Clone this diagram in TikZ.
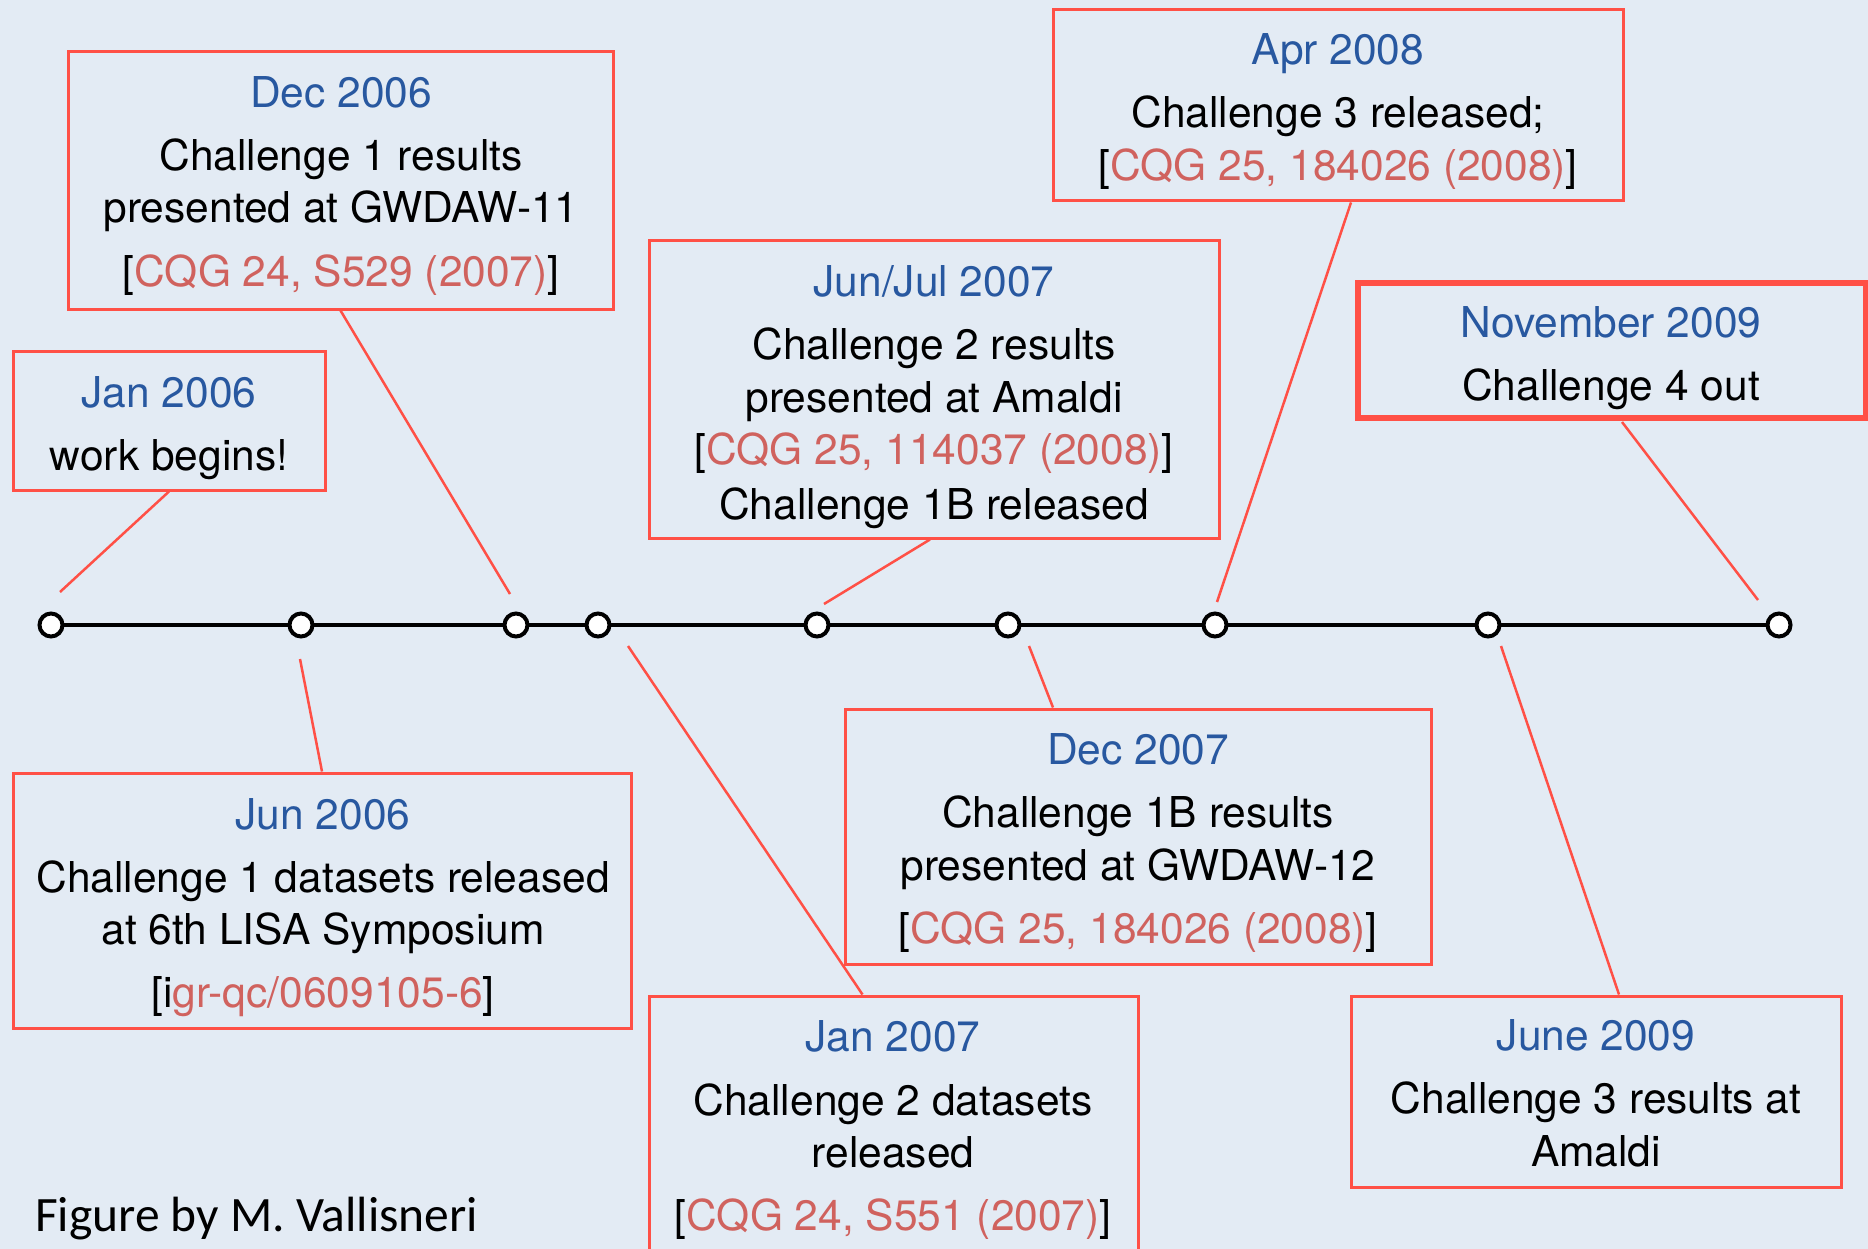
\documentclass[tikz,border=0pt]{standalone}
\usepackage{fontspec}
\setmainfont{TeX Gyre Heros}
\newfontfamily\figfont{Carlito}
\usetikzlibrary{calc}
\definecolor{bgc}{RGB}{227,235,244}
\definecolor{boxred}{RGB}{255,80,70}
\definecolor{datebl}{RGB}{40,88,160}
\definecolor{refred}{RGB}{208,98,94}
\tikzset{
  evbox/.style={draw=boxred, line width=3pt, rectangle, inner sep=0pt},
  datetxt/.style={text=datebl, font=\fontsize{42.5}{50}\selectfont, inner sep=0pt, anchor=base, yshift=-15pt},
  bodytxt/.style={text=black, font=\fontsize{42.5}{50}\selectfont, inner sep=0pt, anchor=base, yshift=-15pt},
  conn/.style={draw=boxred, line width=2.5pt},
  tick/.style={circle, draw=black, fill=white, line width=4pt, minimum size=23pt, inner sep=0pt},
  tline/.style={draw=black, line width=3.5pt}
}
\newcommand{\rf}[1]{\textcolor{refred}{#1}}
\newcommand{\bx}[5]{\node[evbox, minimum width={#4-#2}, minimum height={#5-#3}] (#1) at ({(#2+#4)/2},{(#3+#5)/2}) {};}
\begin{document}
\begin{tikzpicture}[x=1pt,y=-1pt]
\fill[bgc] (0,0) rectangle (1868,1249);
\useasboundingbox (0,0) rectangle (1868,1249);

% timeline
\draw[tline] (51,625) -- (1779,625);
\foreach \n/\x in {t1/51,t2/301,t3/516,t4/598,t5/817,t6/1008,t7/1215,t8/1488,t9/1779}
  \node[tick] (\n) at (\x,625) {};

% boxes
\bx{b1}{68}{52}{613}{309}
\bx{b2}{13}{351}{325}{490}
\bx{b3}{649}{241}{1219}{538}
\bx{b4}{1053}{10}{1623}{201}
\node[evbox, line width=6pt, minimum width=508pt, minimum height=134pt] (b5) at (1612,350.5) {};
\bx{b6}{13}{773}{631}{1028}
\bx{b7}{649}{996}{1138}{1275}
\bx{b8}{845}{709}{1431}{964}
\bx{b9}{1351}{996}{1841}{1187}

% texts
\node[datetxt] (d1) at (341,93) {Dec 2006};
\node[bodytxt] (l1a) at (341,156) {Challenge 1 results};
\node[bodytxt] (l1b) at (341,208) {presented at GWDAW-11};
\node[bodytxt] (l1c) at (341,272) {[\rf{CQG 24, S529 (2007)}]};

\node[datetxt] (d2) at (169,392) {Jan 2006};
\node[bodytxt] (l2a) at (169,455) {work begins!};

\node[datetxt] (d3) at (934,281) {Jun/Jul 2007};
\node[bodytxt] (l3a) at (934,344) {Challenge 2 results};
\node[bodytxt] (l3b) at (934,397) {presented at Amaldi};
\node[bodytxt] (l3c) at (934,449) {[\rf{CQG 25, 114037 (2008)}]};
\node[bodytxt] (l3d) at (934,504) {Challenge 1B released};

\node[datetxt] (d4) at (1338,50) {Apr 2008};
\node[bodytxt] (l4a) at (1338,113) {Challenge 3 released;};
\node[bodytxt] (l4b) at (1338,166) {[\rf{CQG 25, 184026 (2008)}]};

\node[datetxt] (d5) at (1611,322) {November 2009};
\node[bodytxt] (l5a) at (1611,385) {Challenge 4 out};

\node[datetxt] (d6) at (323,814) {Jun 2006};
\node[bodytxt] (l6a) at (323,877) {Challenge 1 datasets released};
\node[bodytxt] (l6b) at (323,929) {at 6th LISA Symposium};
\node[bodytxt] (l6c) at (323,992) {[i\rf{gr-qc/0609105-6}]};

\node[datetxt] (d7) at (893,1036) {Jan 2007};
\node[bodytxt] (l7a) at (893,1100) {Challenge 2 datasets};
\node[bodytxt] (l7b) at (893,1152) {released};
\node[bodytxt] (l7c) at (893,1215) {[\rf{CQG 24, S551 (2007)}]};

\node[datetxt] (d8) at (1138,749) {Dec 2007};
\node[bodytxt] (l8a) at (1138,812) {Challenge 1B results};
\node[bodytxt] (l8b) at (1138,865) {presented at GWDAW-12};
\node[bodytxt] (l8c) at (1138,928) {[\rf{CQG 25, 184026 (2008)}]};

\node[datetxt] (d9) at (1596,1035) {June 2009};
\node[bodytxt] (l9a) at (1596,1098) {Challenge 3 results at};
\node[bodytxt] (l9b) at (1596,1151) {Amaldi};

\node[anchor=west, inner sep=0pt, font=\figfont\fontsize{49.5}{58}\selectfont] (fig) at (35,1219) {Figure by M. Vallisneri};

% connector ends
\coordinate (e2) at (60,592);
\coordinate (e1) at (510,594);
\coordinate (e3) at (824,604);
\coordinate (e4) at (1217,602);
\coordinate (e5) at (1758,600);
\coordinate (e6) at (300,659);
\coordinate (e7) at (628,646);
\coordinate (e8) at (1029,646);
\coordinate (e9) at (1501,646);

% connectors
\draw[conn] (b2.south) -- (e2);
\draw[conn] (b1.south) -- (e1);
\draw[conn] ([xshift=-4pt]b3.south) -- (e3);
\draw[conn] ([xshift=13pt]b4.south) -- (e4);
\draw[conn] ([xshift=10pt,yshift=-1.5pt]b5.south) -- (e5);
\draw[conn] (b6.north) -- (e6);
\draw[conn] ([xshift=-31pt]b7.north) -- (e7);
\draw[conn] ([xshift=-85pt]b8.north) -- (e8);
\draw[conn] ([xshift=23pt]b9.north) -- (e9);
\end{tikzpicture}
\end{document}
